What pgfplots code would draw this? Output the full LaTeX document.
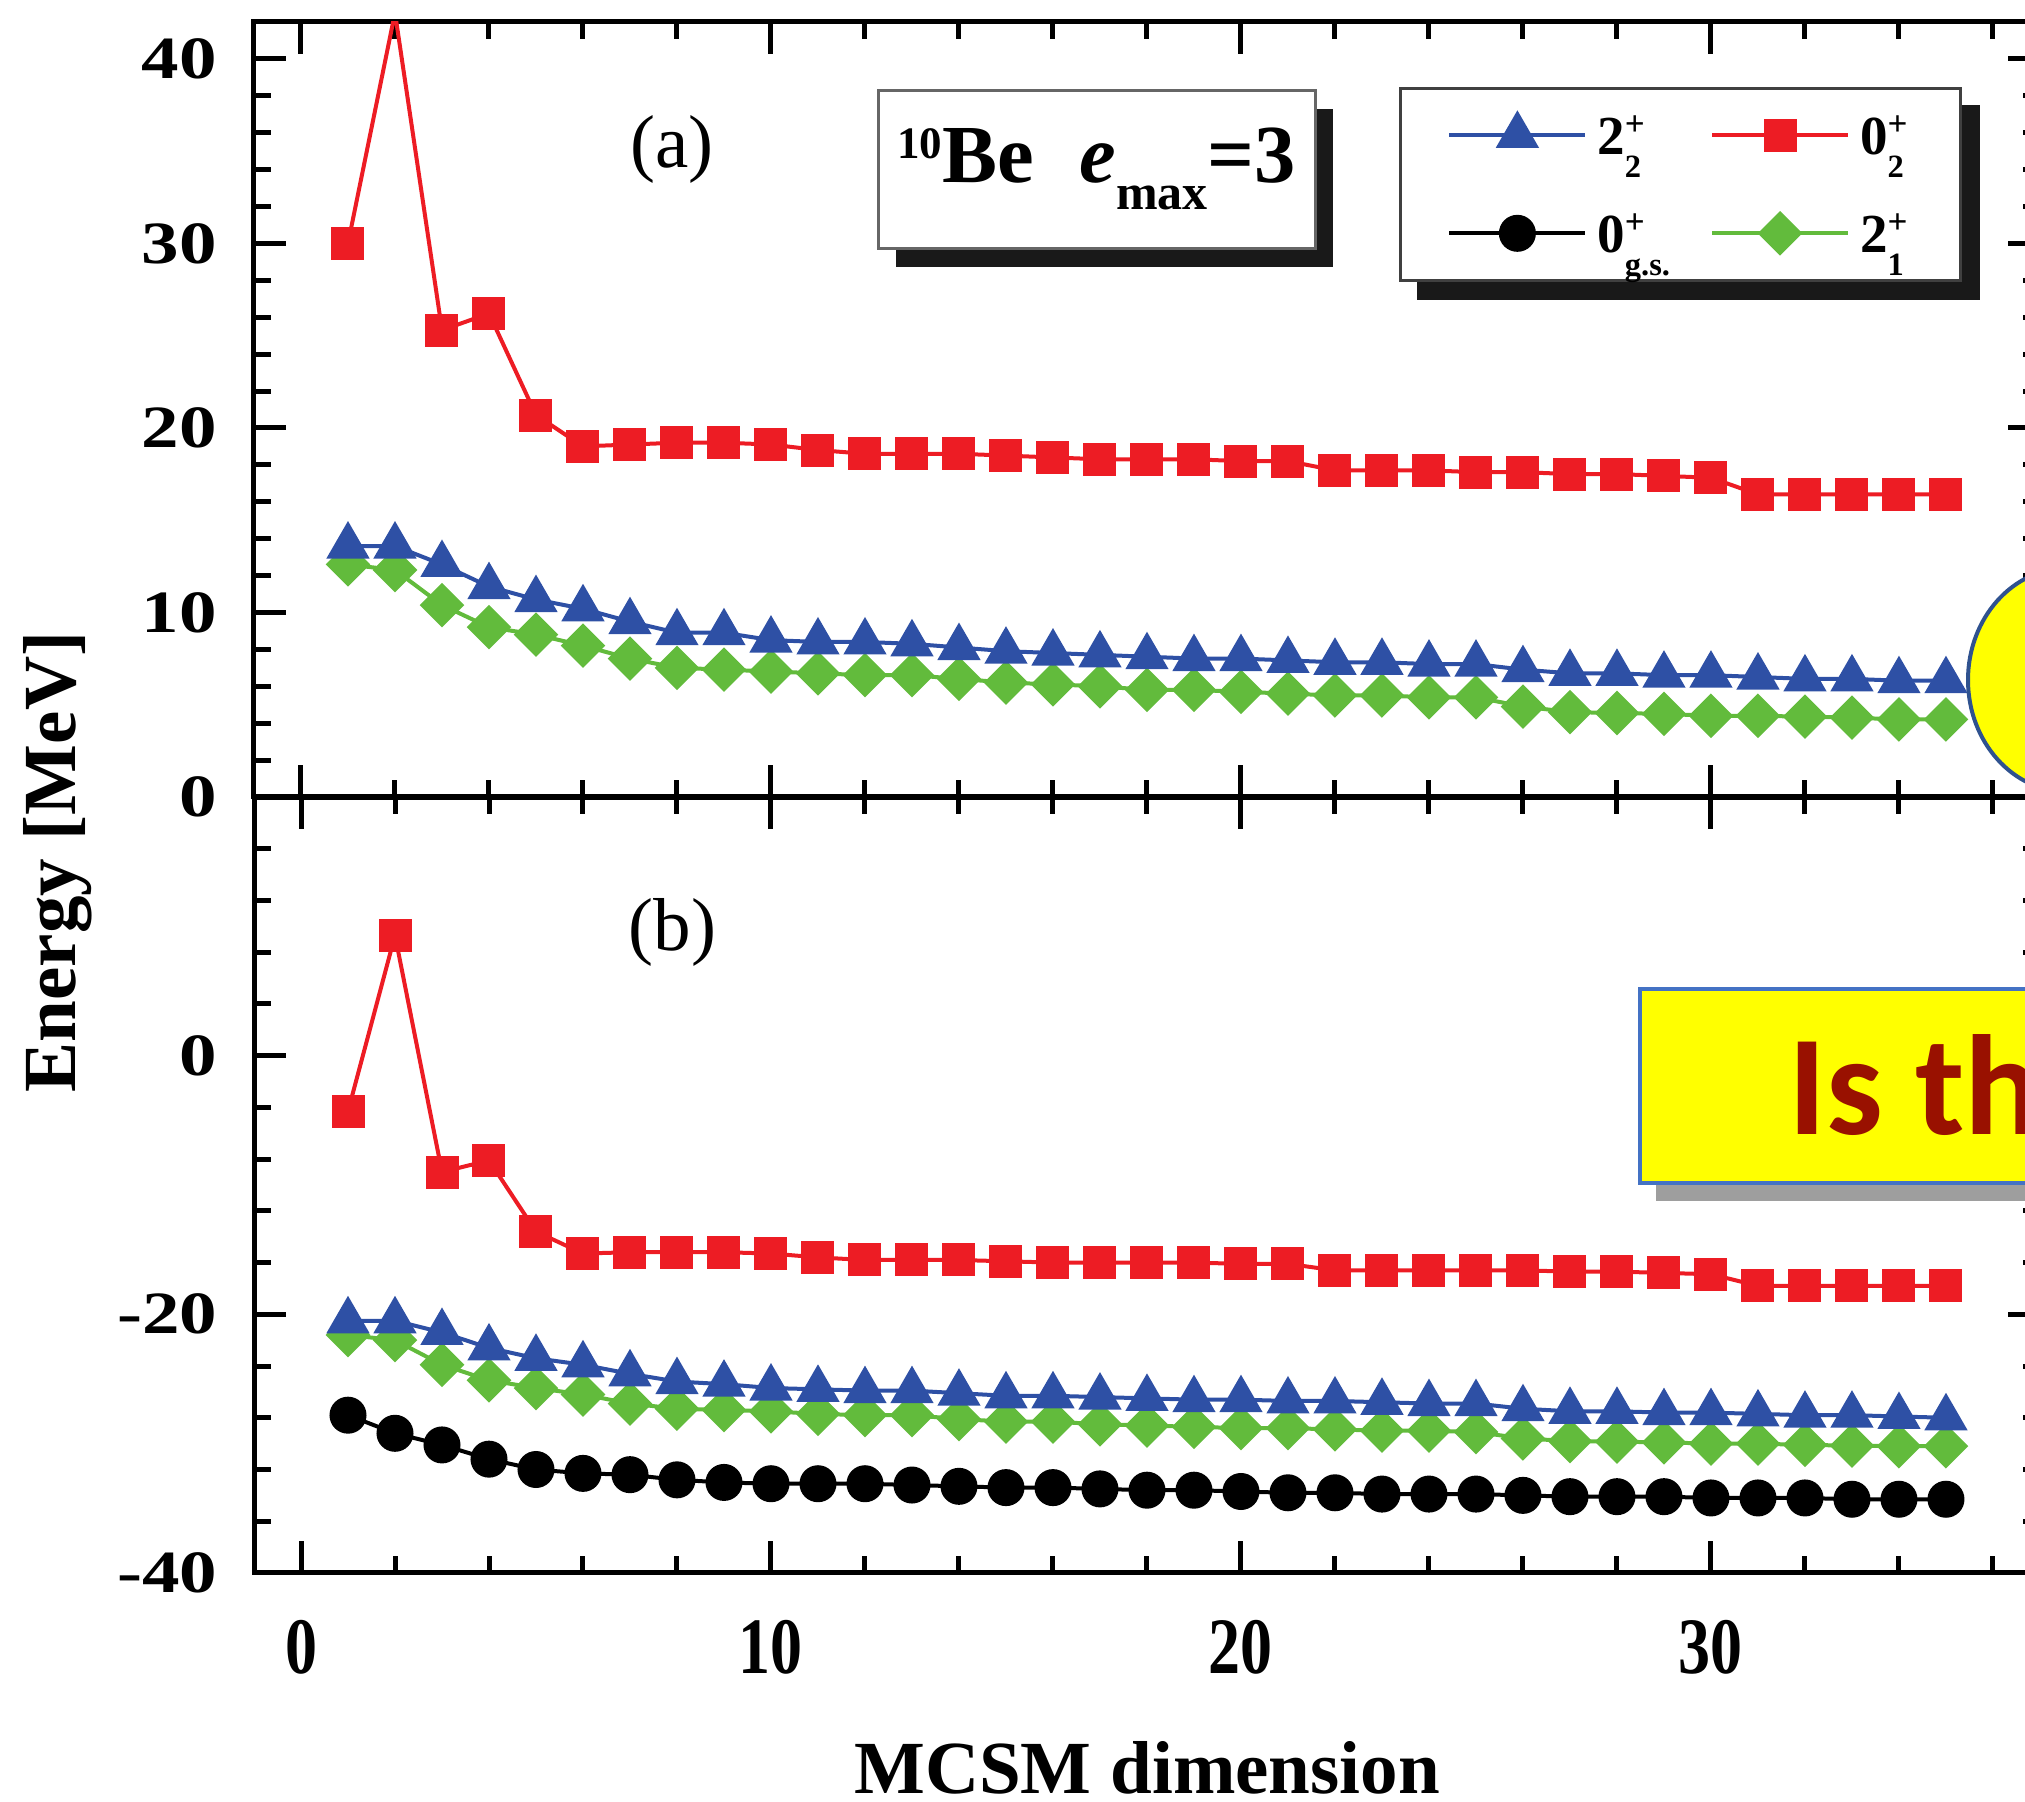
\documentclass[border=0pt]{standalone}
\usepackage{fontspec}
\setmainfont{Liberation Serif}
\newfontfamily\calib{Carlito}
\usepackage{graphicx}
\usepackage{pgfplots}
\usepackage{pgfplotstable}
\pgfplotsset{compat=1.18}
\usetikzlibrary{shadows}
\pgfdeclarelayer{background}
\pgfsetlayers{background,main}
\definecolor{cred}{RGB}{237,28,36}
\definecolor{cblue}{RGB}{46,80,165}
\definecolor{cgreen}{RGB}{98,187,60}
\definecolor{cyel}{RGB}{255,255,0}
\definecolor{cbord}{RGB}{68,114,196}
\definecolor{cell}{RGB}{47,82,143}
\definecolor{ctxt}{RGB}{153,17,0}

\pgfplotstableread{
x red blue green
1 30.0 13.6 12.6
2 42.5 13.6 12.3
3 25.3 12.6 10.4
4 26.2 11.4 9.2
5 20.7 10.7 8.8
6 19.0 10.2 8.2
7 19.1 9.5 7.5
8 19.2 8.9 7.0
9 19.2 8.9 6.9
10 19.1 8.5 6.8
11 18.8 8.4 6.7
12 18.6 8.4 6.6
13 18.6 8.3 6.6
14 18.6 8.1 6.4
15 18.5 7.9 6.2
16 18.4 7.8 6.1
17 18.3 7.7 6.0
18 18.3 7.6 5.8
19 18.3 7.5 5.8
20 18.2 7.5 5.7
21 18.2 7.4 5.6
22 17.7 7.3 5.5
23 17.7 7.3 5.5
24 17.7 7.2 5.4
25 17.6 7.2 5.4
26 17.6 6.9 4.9
27 17.5 6.7 4.6
28 17.5 6.7 4.55
29 17.4 6.6 4.5
30 17.3 6.6 4.4
31 16.4 6.5 4.4
32 16.4 6.4 4.35
33 16.4 6.4 4.3
34 16.4 6.3 4.2
35 16.4 6.3 4.2
}\toptab

\pgfplotstableread{
x red blue green black
1 -4.3 -20.5 -21.6 -27.8
2 9.3 -20.5 -22.0 -29.2
3 -9.0 -21.4 -23.9 -30.1
4 -8.1 -22.6 -25.1 -31.2
5 -13.6 -23.4 -25.7 -32.0
6 -15.3 -23.9 -26.2 -32.3
7 -15.2 -24.6 -26.9 -32.4
8 -15.2 -25.2 -27.3 -32.8
9 -15.2 -25.4 -27.4 -33.0
10 -15.3 -25.7 -27.5 -33.1
11 -15.6 -25.8 -27.7 -33.1
12 -15.8 -25.9 -27.8 -33.1
13 -15.8 -25.9 -27.8 -33.2
14 -15.8 -26.1 -28.1 -33.3
15 -15.9 -26.3 -28.3 -33.4
16 -16.0 -26.3 -28.3 -33.4
17 -16.0 -26.4 -28.5 -33.5
18 -16.0 -26.5 -28.6 -33.6
19 -16.0 -26.6 -28.7 -33.6
20 -16.1 -26.6 -28.8 -33.7
21 -16.1 -26.7 -28.8 -33.8
22 -16.6 -26.7 -28.9 -33.8
23 -16.6 -26.8 -29.0 -33.9
24 -16.6 -26.9 -29.0 -33.9
25 -16.6 -26.9 -29.1 -33.9
26 -16.6 -27.3 -29.6 -34.0
27 -16.7 -27.5 -29.8 -34.1
28 -16.7 -27.5 -29.85 -34.1
29 -16.8 -27.6 -29.9 -34.1
30 -16.9 -27.6 -30.0 -34.2
31 -17.8 -27.7 -30.0 -34.2
32 -17.8 -27.8 -30.1 -34.2
33 -17.8 -27.8 -30.15 -34.3
34 -17.8 -27.9 -30.2 -34.3
35 -17.8 -28.0 -30.2 -34.3
}\bottab

\newcommand\st[3]{#1\rlap{\raisebox{3.8pt}{\fontsize{7}{7}\selectfont #2}}\raisebox{-4.6pt}{\fontsize{6.5}{6.5}\selectfont #3}}

\pgfplotsset{
  sred/.style={cred, line width=0.8pt, mark=square*, mark size=2.9pt, mark options={solid, fill=cred, draw=cred}},
  sblue/.style={cblue, line width=0.8pt, mark=triangle*, mark size=4.2pt, mark options={solid, fill=cblue, draw=cblue}},
  sgreen/.style={cgreen, line width=0.8pt, mark=square*, mark size=2.75pt, mark options={solid, fill=cgreen, draw=cgreen, rotate=45}},
  sblack/.style={black, line width=0.8pt, mark=*, mark size=3.3pt, mark options={solid, fill=black, draw=black}},
  panel/.style={
    scale only axis, width=357.2pt, anchor=south west,
    xmin=-1, xmax=37,
    xtick={0,10,20,30},
    minor xtick={2,4,6,8,12,14,16,18,22,24,26,28,32,34,36},
    axis line style={line width=1pt},
    major tick length=6.4pt, minor tick length=3.4pt,
    tick style={black, line width=1pt},
    yticklabel style={anchor=east, inner sep=0pt, xshift=-7.2pt, font=\bfseries\fontsize{12}{12}\selectfont},
    yticklabel={\scalebox{1.25}[1]{\pgfmathprintnumber[assume math mode=true]{\tick}}},
    xticklabel style={anchor=north, inner sep=0pt, yshift=-9.3pt, font=\bfseries\fontsize{16}{16}\selectfont},
    xticklabel={\scalebox{0.8}[1]{\pgfmathprintnumber[assume math mode=true]{\tick}}},
  },
}

\begin{document}
\begin{tikzpicture}[x=1pt,y=1pt]
\useasboundingbox (0,0) rectangle (405,360.4);
\clip (0,0) rectangle (405,360.4);

% top panel (a)
\begin{axis}[panel, at={(50.8pt,201pt)}, height=155pt,
  ymin=0, ymax=42,
  ytick={0,10,20,30,40},
  minor ytick={2,4,6,8,12,14,16,18,22,24,26,28,32,34,36,38},
  xticklabels={},
  legend columns=2,
  legend cell align=left,
  legend style={name=leg, at={(axis cs:23.36,38.5)}, anchor=north west, draw=black!75, line width=0.6pt, fill=white,
    inner xsep=9.4pt, inner ysep=3pt, row sep=6.7pt,
    nodes={text height=8.3pt, text depth=0.6pt},
    /tikz/every even column/.append style={column sep=6pt},
    font=\bfseries\fontsize{11}{11}\selectfont},
  legend image code/.code={\draw[mark repeat=2,mark phase=2] plot coordinates {(0pt,0pt) (13.6pt,0pt) (27.2pt,0pt)};},
]
\addlegendimage{sblue}\addlegendentry{\st{2}{+}{2}}
\addlegendimage{sred}\addlegendentry{\st{0}{+}{2}}
\addlegendimage{sblack}\addlegendentry{\st{0}{+}{g.s.}}
\addlegendimage{sgreen}\addlegendentry{\st{2}{+}{1}}
\addplot[sgreen, forget plot] table[x=x, y=green] {\toptab};
\addplot[sblue, forget plot] table[x=x, y=blue] {\toptab};
\addplot[sred, forget plot] table[x=x, y=red] {\toptab};
\node[font=\fontsize{15}{15}\selectfont] at (axis cs:7.9,35.1) {(a)};
\node[draw=black!60, line width=0.6pt, fill=white, minimum width=87.4pt, minimum height=31.6pt, inner sep=0pt,
  drop shadow={shadow xshift=3.6pt, shadow yshift=-3.8pt, fill=black!90, opacity=1},
  font=\bfseries\fontsize{16.5}{16.5}\selectfont] at (axis cs:16.93,34.03)
  {\raisebox{4.8pt}{\fontsize{9}{9}\selectfont 10}Be\hspace{0.55em}\textit{e}\raisebox{-5.5pt}{\fontsize{10}{10}\selectfont max}=3};
\end{axis}
\begin{pgfonlayer}{background}
\fill[black!90] ([shift={(3.6pt,-3.6pt)}]leg.south west) rectangle ([shift={(3.6pt,-3.6pt)}]leg.north east);
\end{pgfonlayer}

% bottom panel (b)
\begin{axis}[panel, at={(50.8pt,45.8pt)}, height=155.2pt,
  ymin=-40, ymax=20,
  ytick={-40,-20,0},
  minor ytick={-36,-32,-28,-24,-16,-12,-8,-4,4,8,12,16},
]
\addplot[sblack] table[x=x, y=black] {\bottab};
\addplot[sgreen] table[x=x, y=green] {\bottab};
\addplot[sblue] table[x=x, y=blue] {\bottab};
\addplot[sred] table[x=x, y=red] {\bottab};
\node[font=\fontsize{15}{15}\selectfont] at (axis cs:7.9,9.5) {(b)};
\end{axis}

\node[rotate=90, inner sep=0pt, font=\bfseries\fontsize{15}{15}\selectfont] at (11.6,188) {Energy [MeV]};
\node[inner sep=0pt, font=\bfseries\fontsize{15}{15}\selectfont] at (229.4,6.8) {MCSM dimension};

% overlays
\fill[black!38] (331.2,120.2) rectangle (470,159.2);
\draw[cbord, line width=0.9pt, fill=cyel] (328,123.8) rectangle (470,162.6);
\node[anchor=base west, text=ctxt, font=\calib\bfseries\fontsize{28.5}{28.5}\selectfont, inner sep=0pt] at (357.4,133.4) {Is th};
\draw[cell, line width=0.8pt, fill=cyel] (413.6,224.4) ellipse [x radius=20, y radius=22.4];
\end{tikzpicture}
\end{document}
